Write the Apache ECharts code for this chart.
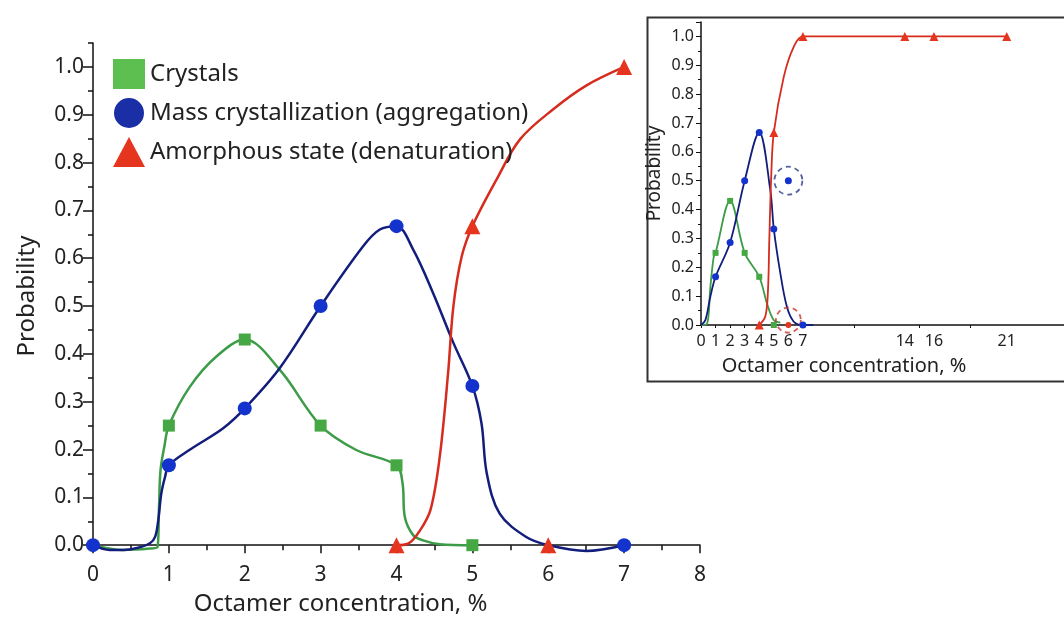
<!DOCTYPE html>
<html>
<head>
<meta charset="utf-8">
<script src="https://cdn.jsdelivr.net/npm/echarts@6/dist/echarts.min.js"></script>
<style>
html, body { margin: 0; padding: 0; background: #fff; }
#chart { width: 1064px; height: 619px; }
</style>
</head>
<body>
<div id="chart"></div>
<script>
var seriesNames = ['Crystals', 'Mass crystallization (aggregation)', 'Amorphous state (denaturation)'];

// measured points, main plot
var crystalsX = [1, 2, 3, 4, 5];
var crystalsY = [0.25, 0.43, 0.25, 0.167, 0];
var massX = [0, 1, 2, 3, 4, 5, 7];
var massY = [0, 0.167, 0.286, 0.5, 0.667, 0.333, 0];
var amorphX = [4, 5, 6, 7];
var amorphY = [0, 0.667, 0, 1.0];

// fitted curves
var crystalsCurveX = [0, 0.4, 0.75, 0.85, 0.87, 0.89, 0.94, 1, 1.28, 1.63, 2, 2.46, 3, 3.47, 4, 4.08, 4.11, 4.22, 4.35, 4.57, 5];
var crystalsCurveY = [0, -0.01, -0.007, -0.004, 0.08, 0.157, 0.206, 0.25, 0.332, 0.395, 0.43, 0.367, 0.25, 0.199, 0.167, 0.129, 0.059, 0.021, 0.01, 0.002, 0];
var massCurveX = [0, 0.22, 0.4, 0.58, 0.75, 0.82, 0.86, 0.9, 0.95, 1, 1.28, 1.72, 2, 2.46, 3, 3.56, 3.78, 4, 4.22, 4.48, 4.75, 5, 5.12, 5.19, 5.36, 5.71, 6, 6.5, 7];
var massCurveY = [0, -0.01, -0.01, -0.006, 0.004, 0.018, 0.052, 0.108, 0.143, 0.167, 0.2, 0.245, 0.286, 0.37, 0.5, 0.625, 0.66, 0.667, 0.618, 0.528, 0.423, 0.333, 0.255, 0.15, 0.066, 0.017, 0, -0.012, 0];
var amorphCurveX = [4, 4.15, 4.31, 4.45, 4.57, 4.68, 4.75, 4.86, 5, 5.32, 5.63, 6.07, 6.5, 7];
var amorphCurveY = [0, 0.003, 0.031, 0.075, 0.185, 0.36, 0.5, 0.604, 0.667, 0.765, 0.849, 0.912, 0.961, 1.0];

// inset points
var insetMassX = [1, 2, 3, 4, 5, 7];
var insetMassY = [0.167, 0.286, 0.5, 0.667, 0.333, 0];
var insetAmorphX = [4, 5, 7, 14, 16, 21];
var insetAmorphY = [0, 0.667, 1, 1, 1, 1];
var insetOutlierMass = [6, 0.5];
var insetOutlierAmorph = [6, 0];

// inset curves
var insetCrystalsCurveX = [0, 0.41, 0.64, 0.87, 1, 2, 3, 4, 4.53, 4.99, 5.45];
var insetCrystalsCurveY = [0, 0.004, 0.13, 0.235, 0.25, 0.43, 0.25, 0.167, 0.075, 0.017, 0.008];
var insetMassCurveX = [0, 0.3, 0.64, 1, 2, 3, 4, 4.76, 5, 5.45, 5.9, 6.36, 6.93, 7.7];
var insetMassCurveY = [0, 0.017, 0.098, 0.167, 0.286, 0.5, 0.667, 0.467, 0.333, 0.179, 0.063, 0.012, 0, 0];
var insetAmorphCurveX = [4, 4.42, 4.6, 4.69, 4.83, 5, 5.68, 6.36, 7, 14, 16, 21];
var insetAmorphCurveY = [0, 0.03, 0.12, 0.294, 0.525, 0.667, 0.859, 0.963, 1, 1, 1, 1];

// axis ticks / labels
var mainYTicks = [0, 0.1, 0.2, 0.3, 0.4, 0.5, 0.6, 0.7, 0.8, 0.9, 1.0];
var mainYMinorTicks = [0.05, 0.15, 0.25, 0.35, 0.45, 0.55, 0.65, 0.75, 0.85, 0.95, 1.05];
var insetXLabels = [0, 1, 2, 3, 4, 5, 6, 7, 14, 16, 21];
var insetXTicks = [0, 1, 2, 3, 4, 5, 6, 7, 10.5, 15, 18.5];

var green = '#45a845', greenLine = '#3c9c48';
var blue = '#1432cc', blueLine = '#131d7c';
var red = '#e5351f', redLine = '#d52c1e';
var axisColor = '#111', textColor = '#222';

function pairs(xs, ys) {
	return xs.map(function (x, i) { return [x, ys[i]]; });
}

var myChart = echarts.init(document.getElementById('chart'));

function markers(name, data, symbol, size, color, xi, yi) {
	return {
		name: name, type: 'scatter', xAxisIndex: xi, yAxisIndex: yi,
		data: data, symbol: symbol, symbolSize: size, clip: false, z: 5,
		itemStyle: { color: color, opacity: 1 },
		emphasis: { disabled: true }
	};
}

function curve(name, data, color, width, xi, yi) {
	return {
		name: name, type: 'line', xAxisIndex: xi, yAxisIndex: yi,
		data: data, smooth: 0.35, showSymbol: false, clip: false, z: 3,
		lineStyle: { color: color, width: width },
		itemStyle: { color: color },
		emphasis: { disabled: true }
	};
}

var option = {
	animation: false,
	textStyle: { fontFamily: 'Noto Sans' },
	legend: {
		orient: 'vertical', left: 108, top: 54,
		itemWidth: 32, itemHeight: 30, itemGap: 9,
		textStyle: { fontSize: 24, color: textColor },
		data: [
			{ name: seriesNames[0], icon: 'rect', itemStyle: { color: '#5cbf50' } },
			{ name: seriesNames[1], icon: 'circle', itemStyle: { color: '#1a2ea6' } },
			{ name: seriesNames[2], icon: 'triangle', itemStyle: { color: red } }
		]
	},
	grid: [
		{ left: 93, top: 43, width: 607, height: 506, outerBoundsMode: 'none' },
		{ left: 701, top: 22, width: 364, height: 303, outerBoundsMode: 'none' }
	],
	xAxis: [
		{
			gridIndex: 0, type: 'value', min: 0, max: 8, interval: 1,
			axisLine: { lineStyle: { color: axisColor, width: 1.5 } },
			axisTick: { length: 8, lineStyle: { color: axisColor, width: 1.5 } },
			minorTick: { show: true, splitNumber: 2, length: 5, lineStyle: { color: axisColor, width: 1.5 } },
			axisLabel: { fontSize: 21, color: textColor, margin: 16 },
			splitLine: { show: false },
			name: 'Octamer concentration, %', nameLocation: 'middle', nameGap: 43,
			nameTextStyle: { fontSize: 24, color: textColor, padding: [0, 112, 0, 0] }
		},
		{
			gridIndex: 1, type: 'value', min: 0, max: 25,
			axisLine: { lineStyle: { color: axisColor, width: 1.5 } },
			axisTick: { customValues: insetXTicks, length: 3, lineStyle: { color: axisColor } },
			axisLabel: { customValues: insetXLabels, fontSize: 16, color: textColor, margin: 8 },
			splitLine: { show: false },
			name: 'Octamer concentration, %', nameLocation: 'middle', nameGap: 31,
			nameTextStyle: { fontSize: 20, color: textColor, padding: [0, 78, 0, 0] }
		}
	],
	yAxis: [
		{
			gridIndex: 0, type: 'value', position: 'left', min: -0.008, max: 1.05,
			axisLine: { show: true, lineStyle: { color: axisColor, width: 1.5 } },
			axisTick: { show: true, customValues: mainYTicks, length: 10, lineStyle: { color: axisColor, width: 1.5 } },
			axisLabel: { customValues: mainYTicks, fontSize: 21, color: textColor, margin: 9,
				formatter: function (v) { return v.toFixed(1); } },
			splitLine: { show: false },
			name: 'Probability', nameLocation: 'middle', nameGap: 54,
			nameTextStyle: { fontSize: 24, color: textColor }
		},
		{
			// minor ticks of the main y axis
			gridIndex: 0, type: 'value', position: 'left', min: -0.008, max: 1.05,
			axisLine: { show: false },
			axisTick: { show: true, customValues: mainYMinorTicks, length: 5, lineStyle: { color: axisColor, width: 1.5 } },
			axisLabel: { show: false },
			splitLine: { show: false }
		},
		{
			gridIndex: 1, type: 'value', min: 0, max: 1.05, interval: 0.1,
			axisLine: { show: true, lineStyle: { color: axisColor, width: 1.5 } },
			axisTick: { show: true, length: 5, lineStyle: { color: axisColor } },
			minorTick: { show: true, splitNumber: 2, length: 3, lineStyle: { color: axisColor } },
			axisLabel: { fontSize: 16, color: textColor, margin: 7, showMaxLabel: false,
				formatter: function (v) { return v.toFixed(1); } },
			splitLine: { show: false },
			name: 'Probability', nameLocation: 'middle', nameGap: 37,
			nameTextStyle: { fontSize: 19, color: textColor }
		}
	],
	graphic: [{
		type: 'rect', left: 645, top: 15, silent: true,
		shape: { width: 440, height: 364 },
		style: { fill: 'none', stroke: '#333', lineWidth: 2 }
	}],
	series: [
		markers(seriesNames[0], pairs(crystalsX, crystalsY), 'rect', 12, green, 0, 0),
		markers(seriesNames[1], pairs(massX, massY), 'circle', 14, blue, 0, 0),
		markers(seriesNames[2], pairs(amorphX, amorphY), 'triangle', 16, red, 0, 0),
		curve(seriesNames[0], pairs(crystalsCurveX, crystalsCurveY), greenLine, 2.5, 0, 0),
		curve(seriesNames[1], pairs(massCurveX, massCurveY), blueLine, 2.5, 0, 0),
		curve(seriesNames[2], pairs(amorphCurveX, amorphCurveY), redLine, 2.5, 0, 0),

		markers(seriesNames[0], pairs(crystalsX, crystalsY), 'rect', 6, green, 1, 2),
		markers(seriesNames[1], pairs(insetMassX, insetMassY), 'circle', 7, blue, 1, 2),
		markers(seriesNames[2], pairs(insetAmorphX, insetAmorphY), 'triangle', 9, red, 1, 2),
		markers(seriesNames[1], [insetOutlierMass], 'circle', 7, blue, 1, 2),
		markers(seriesNames[2], [insetOutlierAmorph], 'circle', 6, red, 1, 2),
		curve(seriesNames[0], pairs(insetCrystalsCurveX, insetCrystalsCurveY), greenLine, 1.8, 1, 2),
		curve(seriesNames[1], pairs(insetMassCurveX, insetMassCurveY), blueLine, 1.8, 1, 2),
		curve(seriesNames[2], pairs(insetAmorphCurveX, insetAmorphCurveY), redLine, 1.8, 1, 2),
		{
			// dashed rings marking the outliers
			type: 'scatter', xAxisIndex: 1, yAxisIndex: 2, clip: false, z: 4, silent: true,
			data: [
				{ value: insetOutlierMass, symbolSize: 28, itemStyle: { borderColor: '#2a3a8a' } },
				{ value: [6, 0.017], symbolSize: 25, itemStyle: { borderColor: '#c8362c' } }
			],
			symbol: 'circle',
			itemStyle: { color: 'rgba(0,0,0,0)', borderWidth: 1.8, borderType: [5, 4] }
		}
	]
};

myChart.setOption(option);
</script>
</body>
</html>
